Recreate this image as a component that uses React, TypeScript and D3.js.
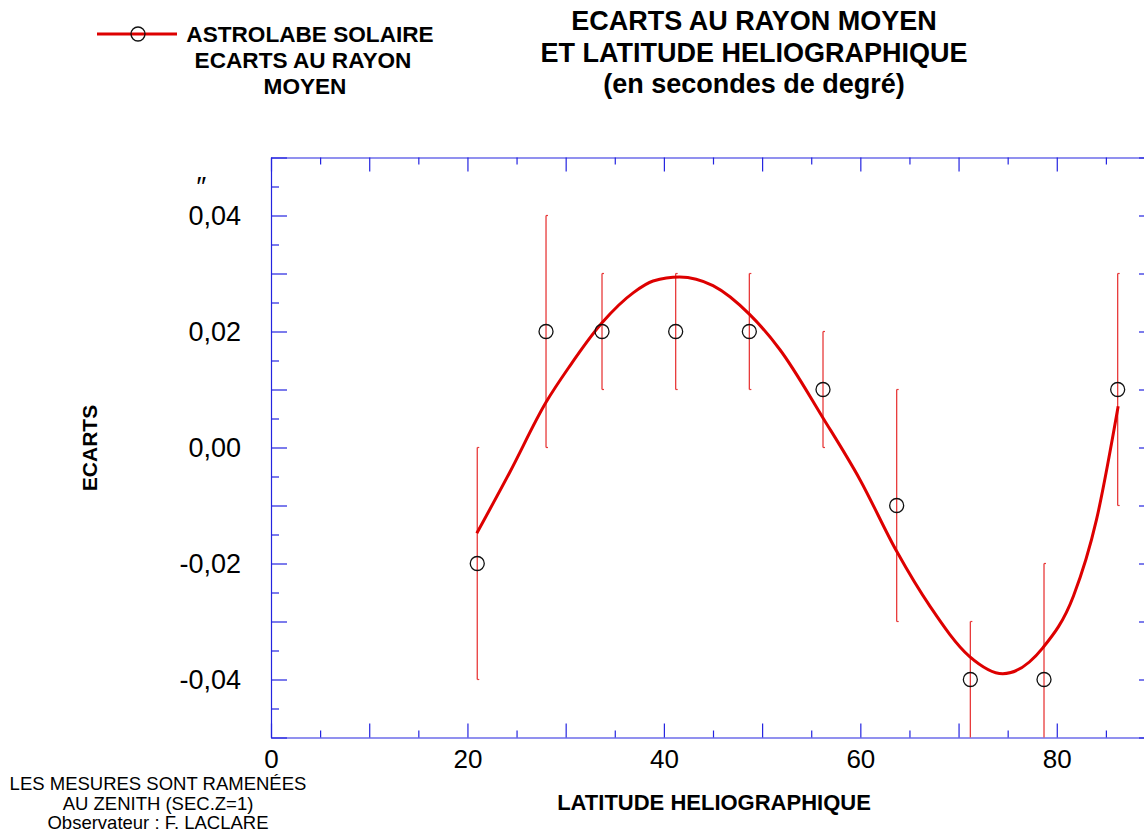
import React, { useRef, useEffect } from 'react'
import * as d3 from 'd3'

// measured points (latitude in degrees, ecart in seconds of arc)
const latitudes = [21.0, 28.0, 33.7, 41.2, 48.7, 56.2, 63.7, 71.2, 78.7, 86.2]
const ecarts = [-0.02, 0.02, 0.02, 0.02, 0.02, 0.01, -0.01, -0.04, -0.04, 0.01]
const errLow = [-0.04, 0.0, 0.01, 0.01, 0.01, 0.0, -0.03, -0.05, -0.05, -0.01]
const errHigh = [0.0, 0.04, 0.03, 0.03, 0.03, 0.02, 0.01, -0.03, -0.02, 0.03]

// fitted curve
const fitLat = [20.95, 24.3, 28.0, 30.4, 33.7, 36.9, 38.9, 41.6, 45.0, 48.75, 51.8, 56.2, 59.95, 63.7, 67.1, 71.1, 74.5, 78.6, 81.7, 84.05, 86.25]
const fitEcart = [-0.0148, -0.0043, 0.0078, 0.014, 0.0215, 0.0267, 0.0287, 0.0294, 0.0279, 0.0229, 0.0169, 0.0051, -0.0055, -0.0179, -0.0274, -0.036, -0.039, -0.0345, -0.0256, -0.0124, 0.0071]

const xMajor = [0, 10, 20, 30, 40, 50, 60, 70, 80, 90]
const xMinor = [5, 15, 25, 35, 45, 55, 65, 75, 85]
const xLabels = [0, 20, 40, 60, 80]
const yMajor = [-5, -4, -3, -2, -1, 0, 1, 2, 3, 4, 5].map(i => i / 100)
const yMinor = [-45, -35, -25, -15, -5, 5, 15, 25, 35, 45].map(i => i / 1000)
const yLabels = [-0.04, -0.02, 0, 0.02, 0.04]

const titleLines = ['ECARTS AU RAYON MOYEN', 'ET LATITUDE HELIOGRAPHIQUE', '(en secondes de degré)']
const legendLines = ['ASTROLABE SOLAIRE', 'ECARTS AU RAYON', 'MOYEN']
const noteLines = ['LES MESURES SONT RAMENÉES', 'AU ZENITH (SEC.Z=1)', 'Observateur : F. LACLARE']

const W = 1144
const H = 832
const margin = { top: 157.5, left: 271, right: 1155, bottom: 737.5 }
const FONT = '"Liberation Sans", Arial, sans-serif'
const AXIS = '#2424e0'
const RED = '#dd0000'

const fmt = (v: number) => {
  const r = Math.round(v * 100) / 100
  return (r < 0 ? '-' : '') + Math.abs(r).toFixed(2).replace('.', ',')
}

const App: React.FC = () => {
  const ref = useRef<SVGSVGElement | null>(null)

  useEffect(() => {
    if (!ref.current) return
    const svg = d3.select(ref.current)
    svg.selectAll('*').remove()

    const x = d3.scaleLinear().domain([0, 90]).range([margin.left, margin.right])
    const y = d3.scaleLinear().domain([-0.05, 0.05]).range([margin.bottom, margin.top])

    const styleAxis = (g: d3.Selection<SVGGElement, unknown, null, undefined>) => {
      g.selectAll('path').attr('stroke', AXIS).attr('stroke-width', 1.2)
      g.selectAll('line').attr('stroke', AXIS).attr('stroke-width', 1.2)
      g.selectAll('text').attr('fill', '#000').style('font-family', FONT)
    }

    // bottom axis
    const bottom = svg.append('g').attr('transform', `translate(0,${margin.bottom})`)
      .call(d3.axisBottom(x).tickValues(xMajor).tickSizeInner(-14).tickSizeOuter(0).tickPadding(12)
        .tickFormat(d => (xLabels.includes(+d) ? String(d) : '')))
    bottom.selectAll('text').style('font-size', '26px')
    styleAxis(bottom)
    const bottomMinor = svg.append('g').attr('transform', `translate(0,${margin.bottom})`)
      .call(d3.axisBottom(x).tickValues(xMinor).tickSizeInner(-7).tickSizeOuter(0).tickFormat(() => ''))
    bottomMinor.select('.domain').remove()
    styleAxis(bottomMinor)

    // top axis
    const top = svg.append('g').attr('transform', `translate(0,${margin.top})`)
      .call(d3.axisTop(x).tickValues(xMajor).tickSizeInner(-14).tickSizeOuter(0).tickFormat(() => ''))
    styleAxis(top)
    const topMinor = svg.append('g').attr('transform', `translate(0,${margin.top})`)
      .call(d3.axisTop(x).tickValues(xMinor).tickSizeInner(-7).tickSizeOuter(0).tickFormat(() => ''))
    topMinor.select('.domain').remove()
    styleAxis(topMinor)

    // left axis
    const left = svg.append('g').attr('transform', `translate(${margin.left},0)`)
      .call(d3.axisLeft(y).tickValues(yMajor).tickSizeInner(-16).tickSizeOuter(0).tickPadding(30)
        .tickFormat(d => (yLabels.some(v => Math.abs(v - +d) < 1e-9) ? fmt(+d) : '')))
    left.selectAll('text').style('font-size', '27px')
    styleAxis(left)
    const leftMinor = svg.append('g').attr('transform', `translate(${margin.left},0)`)
      .call(d3.axisLeft(y).tickValues(yMinor).tickSizeInner(-8).tickSizeOuter(0).tickFormat(() => ''))
    leftMinor.select('.domain').remove()
    styleAxis(leftMinor)

    // right axis
    const right = svg.append('g').attr('transform', `translate(${margin.right},0)`)
      .call(d3.axisRight(y).tickValues(yMajor).tickSizeInner(-16).tickSizeOuter(0).tickFormat(() => ''))
    styleAxis(right)
    const rightMinor = svg.append('g').attr('transform', `translate(${margin.right},0)`)
      .call(d3.axisRight(y).tickValues(yMinor).tickSizeInner(-8).tickSizeOuter(0).tickFormat(() => ''))
    rightMinor.select('.domain').remove()
    styleAxis(rightMinor)

    // error bars
    const clampY = (v: number) => y(Math.max(-0.05, Math.min(0.05, v)))
    const bars = svg.append('g')
    latitudes.forEach((lat, i) => {
      const cx = x(lat)
      bars.append('line')
        .attr('x1', cx).attr('x2', cx)
        .attr('y1', clampY(errLow[i])).attr('y2', clampY(errHigh[i]))
        .attr('stroke', '#e83a3a').attr('stroke-width', 1.3)
      ;[errLow[i], errHigh[i]].forEach(v => {
        if (v > -0.05 && v < 0.05) {
          bars.append('line')
            .attr('x1', cx).attr('x2', cx + 2)
            .attr('y1', y(v)).attr('y2', y(v))
            .attr('stroke', '#e83a3a').attr('stroke-width', 1.2)
        }
      })
    })

    // fitted curve
    const fit = fitLat.map((lat, i) => [lat, fitEcart[i]] as [number, number])
    const line = d3.line<[number, number]>()
      .x(d => x(d[0]))
      .y(d => y(d[1]))
      .curve(d3.curveMonotoneX)
    svg.append('path')
      .attr('d', line(fit))
      .attr('fill', 'none')
      .attr('stroke', RED)
      .attr('stroke-width', 3)

    // markers
    svg.append('g').selectAll('circle')
      .data(latitudes)
      .join('circle')
      .attr('cx', d => x(d))
      .attr('cy', (_, i) => y(ecarts[i]))
      .attr('r', 7)
      .attr('fill', 'none')
      .attr('stroke', '#111')
      .attr('stroke-width', 1.3)

    // double prime unit mark
    svg.append('text')
      .attr('x', 200).attr('y', 196)
      .attr('text-anchor', 'middle')
      .style('font-family', FONT).style('font-size', '28px').style('font-style', 'italic')
      .text('″')

    // y title
    svg.append('text')
      .attr('transform', 'translate(97,448) rotate(-90)')
      .attr('text-anchor', 'middle')
      .style('font-family', FONT).style('font-size', '21px').style('font-weight', 'bold')
      .text('ECARTS')

    // x title
    svg.append('text')
      .attr('x', 714).attr('y', 810)
      .attr('text-anchor', 'middle')
      .style('font-family', FONT).style('font-size', '22px').style('font-weight', 'bold')
      .text('LATITUDE HELIOGRAPHIQUE')

    // title
    const titleY = [30, 62, 93]
    titleLines.forEach((t, i) => {
      svg.append('text')
        .attr('x', 754).attr('y', titleY[i])
        .attr('text-anchor', 'middle')
        .style('font-family', FONT).style('font-size', '27px').style('font-weight', 'bold')
        .text(t)
    })

    // legend
    svg.append('line')
      .attr('x1', 97).attr('x2', 177).attr('y1', 34).attr('y2', 34)
      .attr('stroke', RED).attr('stroke-width', 3)
    svg.append('circle')
      .attr('cx', 138).attr('cy', 34).attr('r', 7)
      .attr('fill', 'none').attr('stroke', '#111').attr('stroke-width', 1.3)
    const legY = [42, 68, 94]
    const legX = [310, 303, 305]
    legendLines.forEach((t, i) => {
      svg.append('text')
        .attr('x', legX[i]).attr('y', legY[i])
        .attr('text-anchor', 'middle')
        .style('font-family', FONT).style('font-size', '22.6px').style('font-weight', 'bold')
        .text(t)
    })

    // note
    const noteY = [790, 810, 829]
    noteLines.forEach((t, i) => {
      svg.append('text')
        .attr('x', 158).attr('y', noteY[i])
        .attr('text-anchor', 'middle')
        .style('font-family', FONT).style('font-size', '18.5px')
        .text(t)
    })
  }, [])

  return (
    <svg
      ref={ref}
      width={W}
      height={H}
      style={{ position: 'absolute', left: 0, top: 0, background: '#fff' }}
    />
  )
}

export default App
